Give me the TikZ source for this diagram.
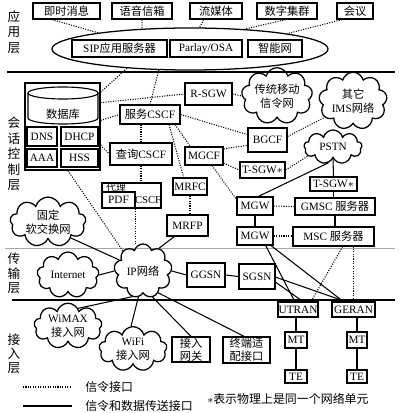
\documentclass[tikz,border=0pt]{standalone}
\usepackage{fontspec}
\setmainfont{Liberation Serif}
\newfontfamily\cjk{Noto Sans CJK SC}
\usetikzlibrary{shapes.geometric,shapes.symbols}
\newcommand\zh[1]{{\cjk #1}}
\newcommand\mybox[6]{\node[box, minimum width={(#4-#2)*0.25mm}, minimum height={(#5-#3)*0.25mm}] (#1) at ({(#2+#4)/2},{(#3+#5)/2}) {#6};}
\newcommand\mycloud[6]{\pgfmathsetmacro\myasp{#4/#5}\node[cl, minimum width={#4*0.25mm}, minimum height={#5*0.25mm}, aspect=\myasp] (#1) at (#2,#3) {#6};}
\tikzset{
  box/.style={draw, line width=0.9pt, inner sep=0pt, align=center, fill=white, font=\fontsize{8}{9.5}\selectfont},
  cl/.style={cloud, draw, cloud puffs=9, line width=0.9pt, inner sep=0pt, align=center, font=\fontsize{8}{10}\selectfont},
  sig/.style={densely dotted, line width=0.75pt},
  dat/.style={line width=0.75pt},
  lay/.style={font=\cjk\fontsize{9}{11}\selectfont, align=center, inner sep=0pt},
  leg/.style={font=\cjk\fontsize{8.5}{10}\selectfont, inner sep=0pt}
}
\begin{document}
\begin{tikzpicture}[x=0.025cm, y=-0.025cm]
\useasboundingbox (0,0) rectangle (400,413);
% layer lines
\coordinate (l1a) at (7,72); \coordinate (l1b) at (395,72);
\coordinate (l2a) at (5,248); \coordinate (l2b) at (395,248);
\coordinate (l3a) at (12,300); \coordinate (l3b) at (395,300);
\draw[line width=1.1pt] (l1a) -- (l1b);
\draw[line width=0.5pt, black!35] (l2a) -- (l2b);
\draw[line width=0.9pt] (l3a) -- (l3b);
% layer labels
\node[lay] (lapp) at (14,32) {应\\用\\层};
\node[lay] (lses) at (14,154) {会\\话\\控\\制\\层};
\node[lay, font=\cjk\fontsize{9}{10.3}\selectfont] (ltra) at (14,273.5) {传\\输\\层};
\node[lay, font=\cjk\fontsize{9}{10}\selectfont] (lacc) at (14,354) {接\\入\\层};
% application layer
\mybox{im}{33}{3}{100}{19}{\zh{即时消息}}
\mybox{vm}{112}{3}{172}{19}{\zh{语音信箱}}
\mybox{sm}{190}{3}{242}{19}{\zh{流媒体}}
\mybox{dg}{257}{3}{317}{19}{\zh{数字集群}}
\mybox{cf}{337}{3}{373}{19}{\zh{会议}}
\node[ellipse, draw, line width=0.9pt, inner sep=0pt, minimum width=69mm, minimum height=10.5mm] (ell) at (190,49) {};
\mybox{sip}{72}{40}{167}{57}{SIP\zh{应用服务器}}
\mybox{osa}{170}{40}{242}{57}{Parlay/OSA}
\mybox{inw}{248}{40}{302}{57}{\zh{智能网}}
\draw[sig] (im.-149) -- (ell.170);
\draw[sig] (vm.south) -- (ell.157);
\draw[sig] (sm.-145) -- (ell.66);
\draw[sig] (dg.-99) -- (ell.20);
\draw[sig] (cf.-146) -- (ell.9);
% database
\mybox{db}{25}{83}{100}{170}{}
\draw[line width=0.8pt] (63,93) ellipse [x radius=35, y radius=6];
\draw[line width=0.8pt] (28,93) -- (28,118) arc[start angle=180, end angle=0, x radius=35, y radius=6] -- (98,93);
\node[font=\cjk\fontsize{8}{9}\selectfont, inner sep=0pt] (dbt) at (63,114) {数据库};
\mybox{dns}{27}{127}{57}{146}{DNS}
\mybox{dhcp}{61}{127}{98}{146}{DHCP}
\mybox{aaa}{27}{149}{57}{167}{AAA}
\mybox{hss}{61}{149}{98}{167}{HSS}
% session control
\mybox{rsgw}{185}{83}{232}{105}{R-SGW}
\mybox{scscf}{120}{105}{180}{124}{\zh{服务}CSCF}
\mybox{qcscf}{110}{143}{172}{165}{\zh{查询}CSCF}
\mybox{mgcf}{185}{147}{223}{165}{MGCF}
\mybox{bgcf}{248}{128}{287}{152}{BGCF}
\mybox{tsgwa}{240}{162}{285}{178}{T-SGW$\ast$}
\mybox{mrfc}{173}{178}{207}{195}{MRFC}
\mybox{mrfp}{167}{215}{208}{236}{MRFP}
\mybox{pcscf}{102}{183}{161}{208}{}
\mybox{pdf}{102}{192}{135}{208}{PDF}
\node[font=\cjk\fontsize{7}{8}\selectfont, inner sep=0pt] (dlt) at (116,187.5) {代理};
\node[font=\fontsize{7.5}{9}\selectfont, inner sep=0pt] (cst) at (148,200) {CSCF};
\mybox{tsgwb}{310}{177}{357}{191}{T-SGW$\ast$}
\mybox{mgwa}{237}{197}{273}{215}{MGW}
\mybox{gmsc}{295}{198}{375}{215}{GMSC \zh{服务器}}
\mybox{mgwb}{237}{227}{273}{245}{MGW}
\mybox{msc}{293}{227}{374}{246}{MSC \zh{服务器}}
% clouds
\mycloud{trad}{277}{96}{66}{44}{\zh{传统移动}\\\zh{信令网}}
\mycloud{ims}{353}{101}{54}{40}{\zh{其它}\\IMS\zh{网络}}
\mycloud{pstn}{333}{147}{58}{34}{PSTN}
\mycloud{fixed}{48}{222}{76}{40}{\zh{固定}\\\zh{软交换网}}
\mycloud{inet}{68}{275}{62}{44}{Internet}
\mycloud{ipn}{143}{271}{58}{54}{IP\zh{网络}}
\mycloud{wimax}{68}{326}{68}{36}{WiMAX\\\zh{接入网}}
\mycloud{wifi}{133}{349}{68}{38}{WiFi\\\zh{接入网}}
% transport
\mybox{ggsn}{187}{263}{225}{287}{GGSN}
\mybox{sgsn}{239}{264}{275}{289}{SGSN}
% access
\mybox{utran}{278}{302}{318}{317}{UTRAN}
\mybox{geran}{332}{302}{375}{317}{GERAN}
\mybox{mta}{285}{332}{307}{348}{MT}
\mybox{mtb}{347}{332}{367}{348}{MT}
\mybox{tea}{285}{370}{307}{383}{TE}
\mybox{teb}{347}{370}{367}{383}{TE}
\mybox{agw}{172}{337}{210}{362}{\zh{接入}\\\zh{网关}}
\mybox{tai}{223}{337}{270}{363}{\zh{终端适}\\\zh{配接口}}
% signalling connectors
\draw[sig] (ell.197.5) -- (db.42.6);
\draw[sig] (ell.214) -- (scscf.north);
\draw[sig] (db.32) -- (rsgw.west);
\draw[sig] (db.9.8) -- (scscf.west);
\draw[sig] (db.-26) -- (qcscf.west);
\draw[sig] (db.-83) -- (ipn.135);
\draw[sig] (rsgw.east) -- (trad.west);
\draw[sig] (scscf.east) -- (bgcf.165);
\draw[sig] (qcscf.north) -- (qcscf.north |- scscf.south);
\draw[sig] (scscf.-22) -- (mgcf.145);
\draw[sig] (scscf.-28) -- (mrfc.125);
\draw[sig] (mgcf.20) -- (bgcf.-165);
\draw[sig] (mgcf.-20) -- (tsgwa.west);
\draw[sig] (mgcf.-50) -- (mgwa.160);
\draw[sig] (bgcf.10) -- (ims.-150);
\draw[sig] (tsgwa.east) -- (pstn.-160);
\draw[sig] (mrfc.south) -- (mrfc.south |- mrfp.north);
\draw[sig] (qcscf.south) -- (qcscf.south |- pcscf.north);
\draw[sig] (pdf.south east) -- (pdf.south east |- ipn.north);
\draw[sig] (mgwa.east) -- (gmsc.west);
\draw[sig] (mgwb.east) -- (mgwb.east -| msc.west);
\draw[sig] (msc.-48) -- (utran.32);
\draw[sig] (geran.north) -- (geran.north |- msc.south);
% data connectors
\draw[dat] (fixed.-35) -- (ipn.155);
\draw[dat] (inet.east) -- (ipn.west);
\draw[dat] (mrfp.-140) -- (ipn.55);
\draw[dat] (ipn.east) -- (ggsn.west);
\draw[dat] (ggsn.east) -- (sgsn.west);
\draw[dat] (pstn.-106) -- (mgwa.70);
\draw[dat] (pstn.south) -- (tsgwb.north);
\draw[dat] (tsgwb.south) -- (tsgwb.south |- gmsc.north);
\draw[dat] (gmsc.south) -- (gmsc.south |- msc.north);
\draw[dat] (mgwa.south) -- (mgwb.north);
\draw[dat] (mgwb.-42) -- (utran.112);
\draw[dat] (mgwb.-31) -- (geran.142);
\draw[dat] (sgsn.-17) -- (utran.60);
\draw[dat] (sgsn.-2) -- (geran.136);
\draw[dat] (mta.north) -- (mta.north |- utran.south);
\draw[dat] (mta.south) -- (tea.north);
\draw[dat] (mtb.north) -- (mtb.north |- geran.south);
\draw[dat] (mtb.south) -- (teb.north);
\draw[dat] (ipn.-113) -- (wimax.60);
\draw[dat] (ipn.-100) -- (wifi.95);
\draw[dat] (ipn.-70) -- (agw.north);
\draw[dat] (ipn.-55) -- (tai.100);
% legend
\coordinate (lga) at (23,387); \coordinate (lgb) at (72,387);
\coordinate (lgc) at (23,406); \coordinate (lgd) at (72,406);
\draw[sig] (lga) -- (lgb);
\draw[dat, line width=0.9pt] (lgc) -- (lgd);
\node[leg, anchor=west] (lgt1) at (85,387) {信令接口};
\node[leg, anchor=west] (lgt2) at (85,406) {信令和数据传送接口};
\node[leg, anchor=west] (note) at (207,399) {{\rmfamily$\ast$}表示物理上是同一个网络单元};
\end{tikzpicture}
\end{document}
